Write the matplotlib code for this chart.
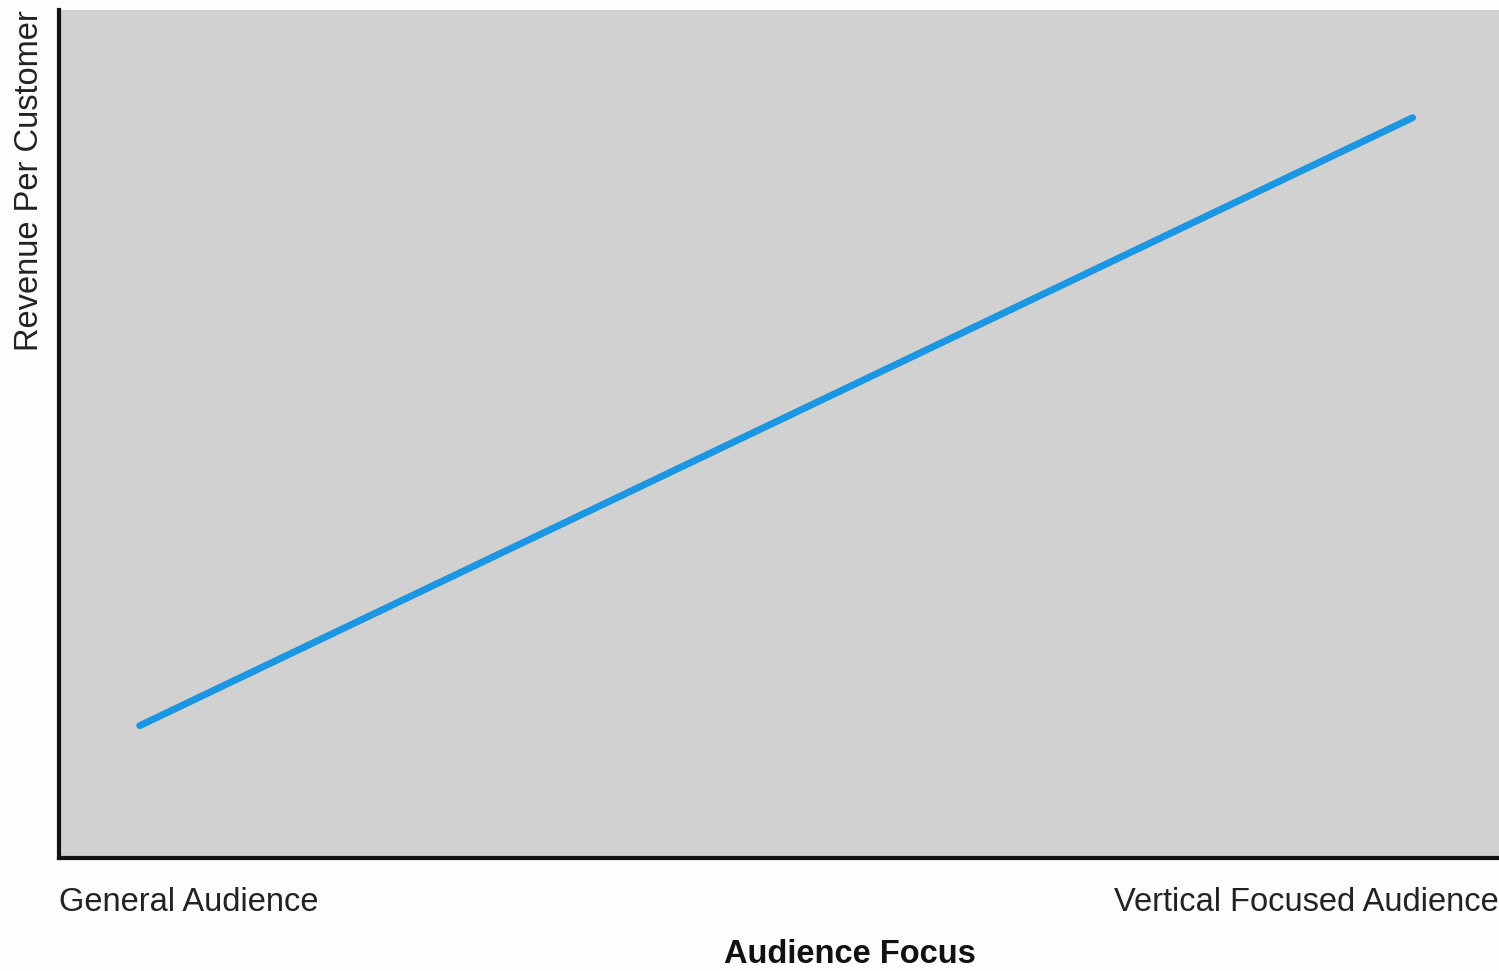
import matplotlib
matplotlib.use('Agg')
import matplotlib.pyplot as plt

plt.rcParams['font.family'] = ['Liberation Sans Narrow', 'Liberation Sans', 'DejaVu Sans']

# audience focus (0 = general, 10 = vertical) vs revenue per customer
focus = [0.56, 9.40]
revenue = [1.56, 8.73]
tick_pos = [0, 10]
tick_labels = ['General Audience', 'Vertical Focused Audience']

fig = plt.figure(figsize=(14.99, 9.71), dpi=100)
fig.patch.set_facecolor('#fdfdfd')
ax = fig.add_axes([0.0394, 0.1164, 0.9606, 0.8733])
ax.set_facecolor('#d1d1d1')

ax.plot(focus, revenue, color='#1b96e2', linewidth=5, solid_capstyle='round')

ax.set_xlim(0, 10)
ax.set_ylim(0, 10)
for s in ['top', 'right']:
    ax.spines[s].set_visible(False)
for s in ['left', 'bottom']:
    ax.spines[s].set_linewidth(3)
    ax.spines[s].set_color('#111111')

ax.set_yticks([])
ax.set_xticks(tick_pos)
ax.set_xticklabels(tick_labels, fontsize=23.5, color='#222222')
ax.tick_params(axis='x', length=0, pad=21)
lbls = ax.get_xticklabels()
lbls[0].set_ha('left')
lbls[1].set_ha('right')

ax.set_ylabel('Revenue Per Customer', fontsize=23.5, color='#222222', loc='top')
ax.yaxis.set_label_coords(-0.0097, 1.0)
ax.set_xlabel('Audience Focus', fontsize=23.5, fontweight='bold', color='#111111')
ax.xaxis.set_label_coords(0.549, -0.096)

fig.savefig('out.png', dpi=100)
